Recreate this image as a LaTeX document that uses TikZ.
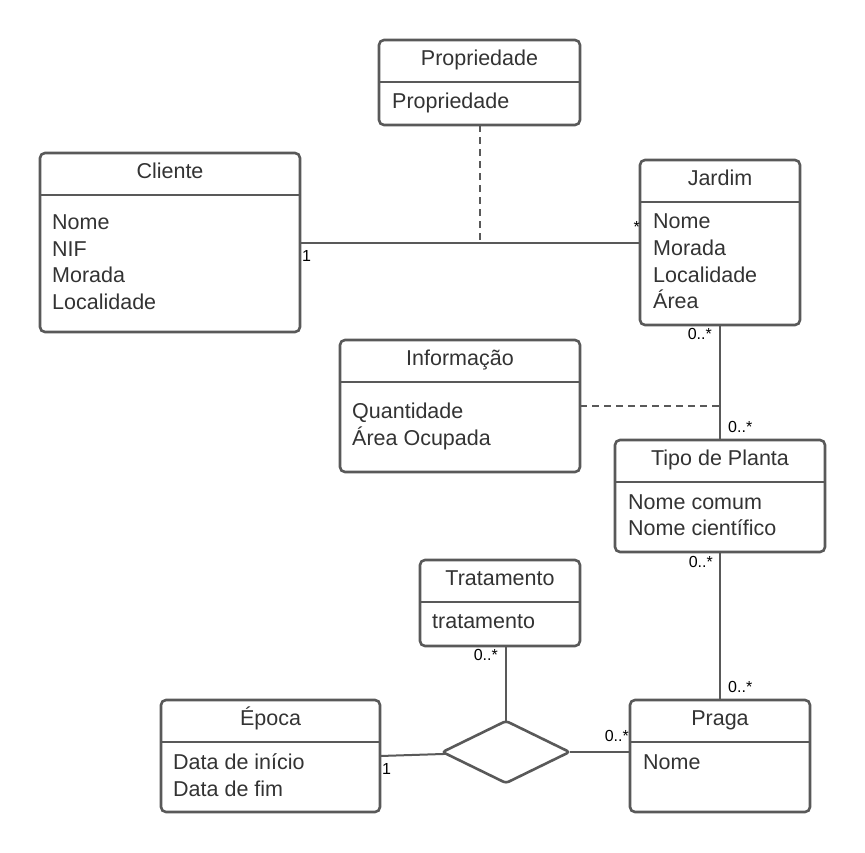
\documentclass[tikz,border=0pt]{standalone}
\usepackage{fontspec}
\setmainfont{Liberation Sans}
\usetikzlibrary{shapes.geometric}
\definecolor{umlline}{HTML}{595959}
\definecolor{umltext}{HTML}{333333}
\tikzset{
  classbox/.style={draw=umlline, line width=2.6pt, rounded corners=5pt, rectangle, inner sep=0pt, outer sep=0pt, fill=white},
  classline/.style={draw=umlline, line width=2.6pt},
  titletext/.style={text=umltext, font=\fontsize{21.5}{26.7}\selectfont, inner sep=0pt},
  attr/.style={text=umltext, font=\fontsize{21.5}{26.7}\selectfont, inner sep=0pt, anchor=base west},
  conn/.style={draw=umlline, line width=2pt},
  dashconn/.style={draw=umlline, line width=2pt, dash pattern=on 7pt off 5pt},
  mult/.style={text=black, font=\fontsize{16}{19}\selectfont, inner sep=0pt},
  relbox/.style={draw=umlline, line width=2.6pt, diamond, aspect=2, minimum width=127pt, minimum height=62pt, inner sep=0pt, outer sep=0pt, rounded corners=3pt, fill=white}
}
\newcommand\umlclass[7]{%
  \node[classbox, minimum width={#4-#2}, minimum height={#5-#3}, anchor=north west] (#1) at (#2,#3) {};
  \draw[classline] (#2,#6) -- (#4,#6);
  \node[titletext, anchor=base] (#1-title) at ({(#2+#4)/2},{#3+25.5}) {#7};
}
\begin{document}
\begin{tikzpicture}[x=1pt,y=-1pt]
\useasboundingbox[fill=white] (0,0) rectangle (865,852);

% classes
\umlclass{prop}{379}{40}{580}{125}{82}{Propriedade}
\node[attr] (prop-a1) at (392,108) {Propriedade};

\umlclass{cliente}{40}{153}{300}{332}{195}{Cliente}
\node[attr] (cli-a1) at (52,229) {Nome};
\node[attr] (cli-a2) at (52,256) {NIF};
\node[attr] (cli-a3) at (52,282) {Morada};
\node[attr] (cli-a4) at (52,309) {Localidade};

\umlclass{jardim}{640}{160}{800}{325}{202}{Jardim}
\node[attr] (jar-a1) at (653,228) {Nome};
\node[attr] (jar-a2) at (653,255) {Morada};
\node[attr] (jar-a3) at (653,282) {Localidade};
\node[attr] (jar-a4) at (653,308) {Área};

\umlclass{info}{340}{340}{580}{472}{382}{Informação}
\node[attr] (inf-a1) at (352,418) {Quantidade};
\node[attr] (inf-a2) at (352,445) {Área Ocupada};

\umlclass{tipo}{615}{440}{825}{552}{482}{Tipo de Planta}
\node[attr] (tip-a1) at (628,509) {Nome comum};
\node[attr] (tip-a2) at (628,535) {Nome científico};

\umlclass{trat}{420}{560}{580}{646}{602}{Tratamento}
\node[attr] (tra-a1) at (432,628) {tratamento};

\umlclass{epoca}{161}{700}{380}{812}{742}{Época}
\node[attr] (epo-a1) at (173,769) {Data de início};
\node[attr] (epo-a2) at (173,796) {Data de fim};

\umlclass{praga}{630}{700}{810}{812}{742}{Praga}
\node[attr] (pra-a1) at (643,769) {Nome};

\node[relbox] (rel) at (506,752) {};

% connectors
\draw[conn] (cliente) -- (jardim);
\draw[dashconn] (prop.south) -- (prop.south |- cliente.east);
\draw[conn] (jardim.south) -- (tipo.north);
\draw[dashconn] (info.east) -- (info.east -| jardim.south);
\draw[conn] (tipo.south) -- (praga.north);
\draw[conn] (rel.north) -- (rel.north |- trat.south);
\draw[conn] (epoca.east) -- (rel);
\draw[conn] (rel.east) -- (rel.east -| praga.west);

% multiplicities
\node[mult, anchor=base west] (m1) at (302,261) {1};
\node[mult, anchor=base east] (m2) at (640,232) {*};
\node[mult, anchor=base east] (m3) at (712,339) {0..*};
\node[mult, anchor=base west] (m4) at (728,432) {0..*};
\node[mult, anchor=base east] (m5) at (713,567) {0..*};
\node[mult, anchor=base west] (m6) at (728,692) {0..*};
\node[mult, anchor=base east] (m7) at (498,660) {0..*};
\node[mult, anchor=base east] (m8) at (629,741) {0..*};
\node[mult, anchor=base west] (m9) at (382,774) {1};
\end{tikzpicture}
\end{document}
